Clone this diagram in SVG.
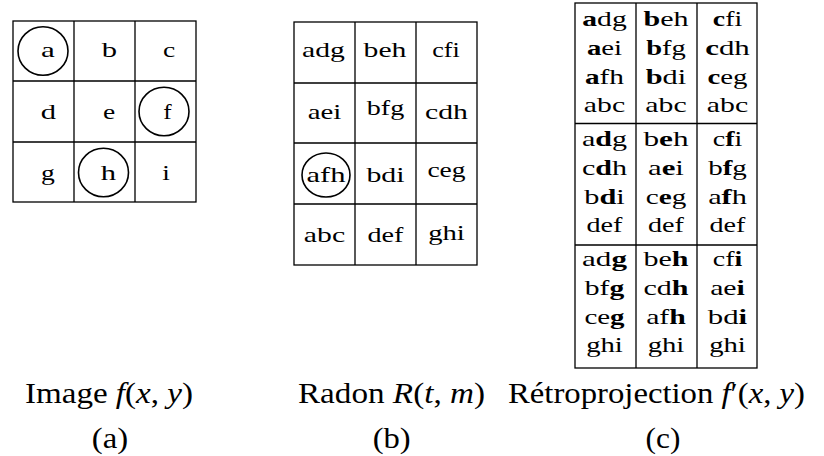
<svg xmlns="http://www.w3.org/2000/svg" width="824" height="456" viewBox="0 0 824 456">
<style>
.grid{fill:none;stroke:#000;stroke-width:1.3}
.ring{fill:none;stroke:#000;stroke-width:1.6}
.t{font-family:"Liberation Serif","Times New Roman",serif;font-size:22px;fill:#000;text-anchor:middle}
.b{font-weight:bold}
.cap{font-family:"Liberation Serif","Times New Roman",serif;font-size:28.5px;fill:#000}
.i{font-style:italic}
</style>
<rect width="824" height="456" fill="#fff"/>

<g id="panel-a">
  <rect class="grid" x="13" y="21" width="183" height="181"/>
  <path class="grid" d="M74 21V202M135 21V202M13 81H196M13 142H196"/>
  <ellipse class="ring" cx="43" cy="51" rx="25" ry="24.3"/>
  <ellipse class="ring" cx="164" cy="111.5" rx="25" ry="24.3"/>
  <ellipse class="ring" cx="103.5" cy="172.5" rx="25" ry="24.3"/>
  <text class="t" x="48" y="57" textLength="13.8" lengthAdjust="spacingAndGlyphs">a</text>
  <text class="t" x="109.5" y="57" textLength="15.3" lengthAdjust="spacingAndGlyphs">b</text>
  <text class="t" x="169" y="57" textLength="12.2" lengthAdjust="spacingAndGlyphs">c</text>
  <text class="t" x="48.5" y="119" textLength="15.3" lengthAdjust="spacingAndGlyphs">d</text>
  <text class="t" x="109" y="119" textLength="12.2" lengthAdjust="spacingAndGlyphs">e</text>
  <text class="t" x="167.5" y="119" textLength="8.4" lengthAdjust="spacingAndGlyphs">f</text>
  <text class="t" x="48" y="180" textLength="13.8" lengthAdjust="spacingAndGlyphs">g</text>
  <text class="t" x="108.5" y="180" textLength="15.3" lengthAdjust="spacingAndGlyphs">h</text>
  <text class="t" x="166" y="180" textLength="7.6" lengthAdjust="spacingAndGlyphs">i</text>
</g>

<g id="panel-b">
  <rect class="grid" x="294" y="22" width="183" height="243"/>
  <path class="grid" d="M355 22V265M416 22V265M294 83H477M294 143H477M294 204H477"/>
  <ellipse class="ring" cx="326" cy="175" rx="24" ry="22"/>
  <text class="t" x="323.5" y="56.7" textLength="42.8" lengthAdjust="spacingAndGlyphs">adg</text>
  <text class="t" x="385" y="56.7" textLength="42.8" lengthAdjust="spacingAndGlyphs">beh</text>
  <text class="t" x="446" y="56.7" textLength="27.5" lengthAdjust="spacingAndGlyphs">cfi</text>
  <text class="t" x="324.5" y="119.3" textLength="33.6" lengthAdjust="spacingAndGlyphs">aei</text>
  <text class="t" x="385.5" y="115" textLength="37.5" lengthAdjust="spacingAndGlyphs">bfg</text>
  <text class="t" x="446.5" y="119.3" textLength="42.8" lengthAdjust="spacingAndGlyphs">cdh</text>
  <text class="t" x="326" y="181.7" textLength="39" lengthAdjust="spacingAndGlyphs">afh</text>
  <text class="t" x="385.5" y="181.7" textLength="38.2" lengthAdjust="spacingAndGlyphs">bdi</text>
  <text class="t" x="446.5" y="176.7" textLength="38.2" lengthAdjust="spacingAndGlyphs">ceg</text>
  <text class="t" x="324.5" y="241.7" textLength="41.3" lengthAdjust="spacingAndGlyphs">abc</text>
  <text class="t" x="385.5" y="241.7" textLength="35.9" lengthAdjust="spacingAndGlyphs">def</text>
  <text class="t" x="446.5" y="240" textLength="36.7" lengthAdjust="spacingAndGlyphs">ghi</text>
</g>

<g id="panel-c">
  <rect class="grid" x="575" y="3" width="182" height="365"/>
  <path class="grid" d="M636 3V368M697 3V368M575 123.5H757M575 245H757"/>
  <text class="t" x="604.5" y="26" textLength="44.4" lengthAdjust="spacingAndGlyphs"><tspan class="b">a</tspan>dg</text>
  <text class="t" x="666" y="26" textLength="45.1" lengthAdjust="spacingAndGlyphs"><tspan class="b">b</tspan>eh</text>
  <text class="t" x="727.5" y="26" textLength="29.3" lengthAdjust="spacingAndGlyphs"><tspan class="b">c</tspan>fi</text>
  <text class="t" x="604.5" y="55" textLength="35.2" lengthAdjust="spacingAndGlyphs"><tspan class="b">a</tspan>ei</text>
  <text class="t" x="666" y="55" textLength="39.7" lengthAdjust="spacingAndGlyphs"><tspan class="b">b</tspan>fg</text>
  <text class="t" x="727.5" y="55" textLength="44.6" lengthAdjust="spacingAndGlyphs"><tspan class="b">c</tspan>dh</text>
  <text class="t" x="604.5" y="83.5" textLength="39.1" lengthAdjust="spacingAndGlyphs"><tspan class="b">a</tspan>fh</text>
  <text class="t" x="666" y="83.5" textLength="40.5" lengthAdjust="spacingAndGlyphs"><tspan class="b">b</tspan>di</text>
  <text class="t" x="727.5" y="83.5" textLength="40" lengthAdjust="spacingAndGlyphs"><tspan class="b">c</tspan>eg</text>
  <text class="t" x="604.5" y="112" textLength="41.3" lengthAdjust="spacingAndGlyphs">abc</text>
  <text class="t" x="666" y="112" textLength="41.3" lengthAdjust="spacingAndGlyphs">abc</text>
  <text class="t" x="727.5" y="112" textLength="41.3" lengthAdjust="spacingAndGlyphs">abc</text>

  <text class="t" x="604.5" y="146" textLength="45.1" lengthAdjust="spacingAndGlyphs">a<tspan class="b">d</tspan>g</text>
  <text class="t" x="666" y="146" textLength="45.1" lengthAdjust="spacingAndGlyphs">b<tspan class="b">e</tspan>h</text>
  <text class="t" x="727.5" y="146" textLength="29.5" lengthAdjust="spacingAndGlyphs">c<tspan class="b">f</tspan>i</text>
  <text class="t" x="604.5" y="175" textLength="45.1" lengthAdjust="spacingAndGlyphs">c<tspan class="b">d</tspan>h</text>
  <text class="t" x="666" y="175" textLength="35.9" lengthAdjust="spacingAndGlyphs">a<tspan class="b">e</tspan>i</text>
  <text class="t" x="727.5" y="175" textLength="38.7" lengthAdjust="spacingAndGlyphs">b<tspan class="b">f</tspan>g</text>
  <text class="t" x="604.5" y="203.5" textLength="40.5" lengthAdjust="spacingAndGlyphs">b<tspan class="b">d</tspan>i</text>
  <text class="t" x="666" y="203.5" textLength="40.5" lengthAdjust="spacingAndGlyphs">c<tspan class="b">e</tspan>g</text>
  <text class="t" x="727.5" y="203.5" textLength="38.7" lengthAdjust="spacingAndGlyphs">a<tspan class="b">f</tspan>h</text>
  <text class="t" x="604.5" y="232" textLength="35.9" lengthAdjust="spacingAndGlyphs">def</text>
  <text class="t" x="666" y="232" textLength="35.9" lengthAdjust="spacingAndGlyphs">def</text>
  <text class="t" x="727.5" y="232" textLength="35.9" lengthAdjust="spacingAndGlyphs">def</text>

  <text class="t" x="604.5" y="266" textLength="44.9" lengthAdjust="spacingAndGlyphs">ad<tspan class="b">g</tspan></text>
  <text class="t" x="666" y="266" textLength="45.1" lengthAdjust="spacingAndGlyphs">be<tspan class="b">h</tspan></text>
  <text class="t" x="727.5" y="266" textLength="29.4" lengthAdjust="spacingAndGlyphs">cf<tspan class="b">i</tspan></text>
  <text class="t" x="604.5" y="295" textLength="39.5" lengthAdjust="spacingAndGlyphs">bf<tspan class="b">g</tspan></text>
  <text class="t" x="666" y="295" textLength="45.1" lengthAdjust="spacingAndGlyphs">cd<tspan class="b">h</tspan></text>
  <text class="t" x="727.5" y="295" textLength="34.7" lengthAdjust="spacingAndGlyphs">ae<tspan class="b">i</tspan></text>
  <text class="t" x="604.5" y="323.5" textLength="40.2" lengthAdjust="spacingAndGlyphs">ce<tspan class="b">g</tspan></text>
  <text class="t" x="666" y="323.5" textLength="39.7" lengthAdjust="spacingAndGlyphs">af<tspan class="b">h</tspan></text>
  <text class="t" x="727.5" y="323.5" textLength="39.4" lengthAdjust="spacingAndGlyphs">bd<tspan class="b">i</tspan></text>
  <text class="t" x="604.5" y="352" textLength="36.7" lengthAdjust="spacingAndGlyphs">ghi</text>
  <text class="t" x="666" y="352" textLength="36.7" lengthAdjust="spacingAndGlyphs">ghi</text>
  <text class="t" x="727.5" y="352" textLength="36.7" lengthAdjust="spacingAndGlyphs">ghi</text>
</g>

<g id="captions">
  <text class="cap" x="25" y="403" textLength="168" lengthAdjust="spacingAndGlyphs">Image <tspan class="i">f</tspan>(<tspan class="i">x</tspan>, <tspan class="i">y</tspan>)</text>
  <text class="cap" x="298" y="403" textLength="187" lengthAdjust="spacingAndGlyphs">Radon <tspan class="i">R</tspan>(<tspan class="i">t</tspan>, <tspan class="i">m</tspan>)</text>
  <text class="cap" x="508" y="403" textLength="297" lengthAdjust="spacingAndGlyphs">Rétroprojection <tspan class="i">f</tspan>′(<tspan class="i">x</tspan>, <tspan class="i">y</tspan>)</text>
  <text class="cap" x="110" y="448" text-anchor="middle" textLength="36.4" lengthAdjust="spacingAndGlyphs">(a)</text>
  <text class="cap" x="391.7" y="448" text-anchor="middle" textLength="38" lengthAdjust="spacingAndGlyphs">(b)</text>
  <text class="cap" x="663" y="448" text-anchor="middle" textLength="34.8" lengthAdjust="spacingAndGlyphs">(c)</text>
</g>
</svg>
